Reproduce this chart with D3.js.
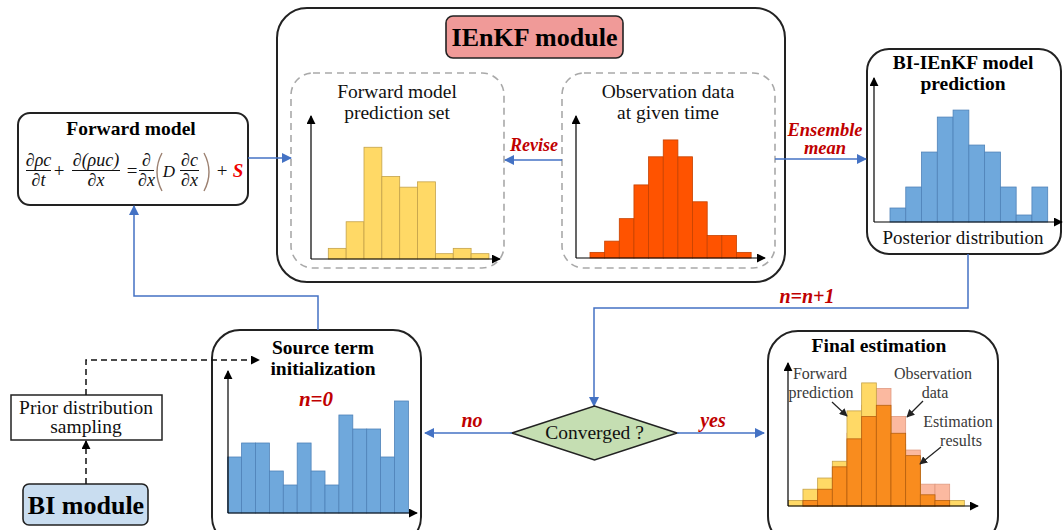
<!DOCTYPE html>
<html><head><meta charset="utf-8">
<script src="https://cdn.jsdelivr.net/npm/d3@7"></script>
<style>body{margin:0;background:#fff;overflow:hidden}</style>
</head><body><svg id="c" width="1063" height="530"></svg>
<script>
// ---- data (histogram counts) ----
const forwardSet   = [2, 7, 21, 15.5, 13.5, 14.5, 1, 2, 1];
const observation  = [1, 3, 7, 13, 18, 21, 18, 10, 4, 4, 1];
const posterior    = [2, 5, 10, 15, 16, 11, 10, 5, 1, 5];
const sourceInit   = [4, 5, 5, 3, 2, 5, 3, 2, 7, 6, 6, 4, 8];
const finalForward = [1, 3, 5, 8, 17, 22, 16, 11, 7, 1, 0, 1];
const finalObs     = [0, 1, 3, 7, 13, 18, 21, 16, 10, 3.9, 3.9, 0];
const finalEst     = [0, 1, 3, 7, 12, 16, 18, 13, 9, 2, 1, 0];

const svg = d3.select("#c");
const SERIF = "'Liberation Serif','Times New Roman',serif";
const BLUE = "#4472c4", RED = "#c00000";

const defs = svg.append("defs");
function marker(id, color, size) {
  defs.append("marker").attr("id", id).attr("viewBox", "0 0 10 10")
    .attr("refX", 9).attr("refY", 5).attr("markerWidth", size).attr("markerHeight", size)
    .attr("markerUnits", "userSpaceOnUse").attr("orient", "auto")
    .append("path").attr("d", "M0,0L10,5L0,10z").attr("fill", color);
}
marker("ab", BLUE, 10);
marker("ak", "#000", 9);
marker("aks", "#222", 8);

function rect(x, y, w, h, rx, fill, stroke, sw, dash) {
  const r = svg.append("rect").attr("x", x).attr("y", y).attr("width", w).attr("height", h)
    .attr("rx", rx).attr("fill", fill).attr("stroke", stroke).attr("stroke-width", sw);
  if (dash) r.attr("stroke-dasharray", dash);
  return r;
}
function text(x, y, s, size, opts = {}) {
  return svg.append("text").attr("x", x).attr("y", y).text(s)
    .attr("font-family", opts.family || SERIF).attr("font-size", size)
    .attr("font-weight", opts.bold ? "bold" : "normal")
    .attr("font-style", opts.italic ? "italic" : "normal")
    .attr("fill", opts.fill || "#111")
    .attr("text-anchor", opts.anchor || "middle");
}
function line(pts, color, sw, mk, dash) {
  const p = svg.append("path").attr("d", d3.line()(pts)).attr("fill", "none")
    .attr("stroke", color).attr("stroke-width", sw);
  if (mk) p.attr("marker-end", `url(#${mk})`);
  if (dash) p.attr("stroke-dasharray", dash);
  return p;
}

// histogram helper using d3 scales
function hist(cfg) {
  const x = d3.scaleBand().domain(d3.range(cfg.layers[0].values.length))
    .range([cfg.barStart, cfg.barStart + cfg.barW * cfg.layers[0].values.length]).paddingInner(0).paddingOuter(0);
  const y = d3.scaleLinear().domain([0, cfg.max]).range([cfg.base, cfg.top]);
  const g = svg.append("g");
  cfg.layers.forEach(L => {
    g.append("g").selectAll("rect").data(L.values).join("rect")
      .attr("x", (d, i) => x(i)).attr("width", x.bandwidth())
      .attr("y", d => y(d)).attr("height", d => y(0) - y(d))
      .attr("fill", L.fill).attr("stroke", L.stroke).attr("stroke-width", 0.8)
      .attr("display", d => d > 0 ? null : "none");
  });
  // axes
  line([[cfg.axisX, y(0)], [cfg.axisX, y(cfg.max) - 2]], "#000", 1.2, "ak");
  line([[cfg.axisX, y(0)], [cfg.axisEnd, y(0)]], "#000", 1.2, "ak");
}

// ---------- IEnKF module ----------
rect(277, 8, 508, 274, 30, "#fff", "#222", 2);
rect(446, 16, 177, 42, 7, "#f09a98", "#222", 1.6);
text(534.5, 46, "IEnKF module", 26, {bold: true, fill: "#000"});

rect(291, 73, 213, 195, 22, "none", "#a9a9a9", 1.6, "7,5");
rect(562, 73, 213, 195, 22, "none", "#a9a9a9", 1.6, "7,5");
text(397, 98, "Forward model", 19.5);
text(397, 119, "prediction set", 19.5);
text(668, 98, "Observation data", 19.5);
text(668, 119, "at given time", 19.5);

hist({layers: [{values: forwardSet, fill: "#ffd966", stroke: "#c4a24a"}],
  barStart: 328.3, barW: 17.85, base: 259, top: 118, max: 26.5, axisX: 311, axisEnd: 500});
hist({layers: [{values: observation, fill: "#ff5300", stroke: "#c64200"}],
  barStart: 590, barW: 14.65, base: 258, top: 118, max: 24.9, axisX: 576, axisEnd: 765});

// ---------- BI-IEnKF ----------
rect(867, 49, 194, 205, 22, "#fff", "#222", 2);
text(963, 69, "BI-IEnKF model", 19.5, {bold: true, fill: "#000"});
text(963, 90, "prediction", 19.5, {bold: true, fill: "#000"});
hist({layers: [{values: posterior, fill: "#6fa8dc", stroke: "#4f82b8"}],
  barStart: 890, barW: 15.77, base: 222, top: 80, max: 20.3, axisX: 874, axisEnd: 1062});
text(963, 244, "Posterior distribution", 19);

// ---------- Forward model ----------
rect(18, 113, 230, 92, 12, "#fff", "#222", 2);
text(131, 135, "Forward model", 19.5, {bold: true, fill: "#000"});
const EQ = 18, EQF = "'Liberation Serif','DejaVu Serif',serif";
function frac(cx, x0, x1, num, den) {
  text(cx, 166, num, EQ, {italic: true, family: EQF});
  text(cx, 186, den, EQ, {italic: true, family: EQF});
  line([[x0, 170.5], [x1, 170.5]], "#111", 1);
}
frac(38.5, 26, 51, "∂ρc", "∂t");
text(59, 177, "+", 19, {family: EQF});
frac(96, 72, 120, "∂(ρuc)", "∂x");
text(132, 177, "=", 19, {family: EQF});
frac(146.5, 139, 154, "∂", "∂x");
svg.append("path").attr("d", "M162,153 Q152,172 162,191").attr("fill", "none").attr("stroke", "#9c8070").attr("stroke-width", 1.4);
text(169, 177, "D", 17, {italic: true, family: EQF});
frac(189.5, 180, 199, "∂c", "∂x");
svg.append("path").attr("d", "M204,153 Q214,172 204,191").attr("fill", "none").attr("stroke", "#9c8070").attr("stroke-width", 1.4);
text(222, 177, "+", 19, {family: EQF});
text(238, 177, "S", 19, {bold: true, italic: true, fill: "#f00000", family: EQF});

// ---------- connections top ----------
line([[248, 158], [291, 158]], BLUE, 1.5, "ab");
line([[562, 160], [505, 160]], BLUE, 1.5, "ab");
text(534, 151, "Revise", 18, {bold: true, italic: true, fill: RED});
line([[775, 159], [866, 159]], BLUE, 1.5, "ab");
text(825, 136, "Ensemble", 18.5, {bold: true, italic: true, fill: RED});
text(825, 154, "mean", 18.5, {bold: true, italic: true, fill: RED});

line([[968, 254], [968, 308], [594, 308], [594, 406]], BLUE, 1.5, "ab");
text(807, 303, "n=n+1", 20, {bold: true, italic: true, fill: RED});

// ---------- diamond ----------
svg.append("path").attr("d", d3.line()([[512, 433], [594.5, 406], [677, 433], [594.5, 460]]) + "Z")
  .attr("fill", "#c5deb2").attr("stroke", "#222").attr("stroke-width", 1.6);
text(594.5, 439, "Converged ?", 19.5);
line([[512, 433], [425, 433]], BLUE, 1.5, "ab");
text(472, 427, "no", 20, {bold: true, italic: true, fill: RED});
line([[677, 433], [764, 433]], BLUE, 1.5, "ab");
text(713, 427, "yes", 20, {bold: true, italic: true, fill: RED});

// ---------- Source term ----------
rect(212, 330, 209, 215, 28, "#fff", "#222", 2);
text(323, 354, "Source term", 19.5, {bold: true, fill: "#000"});
text(323, 375, "initialization", 19.5, {bold: true, fill: "#000"});
hist({layers: [{values: sourceInit, fill: "#6fa8dc", stroke: "#4f82b8"}],
  barStart: 227.7, barW: 13.9, base: 513, top: 373, max: 10, axisX: 228, axisEnd: 417});
text(316, 406, "n=0", 21, {bold: true, italic: true, fill: RED});
line([[318, 330], [318, 296], [134, 296], [134, 206]], BLUE, 1.5, "ab");

// ---------- Prior / BI module ----------
rect(11, 395, 151, 45, 0, "#fff", "#222", 1.5);
text(86, 414, "Prior distribution", 19.5);
text(86, 433, "sampling", 19.5);
line([[86, 395], [86, 360], [259, 360]], "#111", 1.5, "ak", "6,4");
rect(23, 484, 125, 41, 6, "#c9ddf0", "#222", 1.6);
text(86, 514, "BI module", 26, {bold: true, fill: "#000"});
line([[86, 484], [86, 441]], "#111", 1.5, "ak", "6,4");

// ---------- Final estimation ----------
rect(768, 331, 230, 215, 30, "#fff", "#222", 2);
text(879, 352, "Final estimation", 19.5, {bold: true, fill: "#000"});
hist({layers: [
    {values: finalObs, fill: "#fbb9a0", stroke: "#e09a80"},
    {values: finalForward, fill: "#ffd966", stroke: "#c4a24a"},
    {values: finalEst, fill: "#f98c1e", stroke: "#b76010"}],
  barStart: 788.3, barW: 14.67, base: 506, top: 365, max: 25.2, axisX: 788, axisEnd: 978});
const G = "#3a3a3a";
text(820, 379, "Forward", 16, {fill: G});
text(821, 398, "prediction", 16, {fill: G});
text(933, 379, "Observation", 16, {fill: G});
text(935, 398, "data", 16, {fill: G});
text(958, 427, "Estimation", 16, {fill: G});
text(961, 446, "results", 16, {fill: G});
line([[832, 402], [847, 416]], "#222", 1.2, "aks");
line([[923, 401], [907, 417]], "#222", 1.2, "aks");
line([[941, 447], [920, 464]], "#222", 1.2, "aks");
</script></body></html>
